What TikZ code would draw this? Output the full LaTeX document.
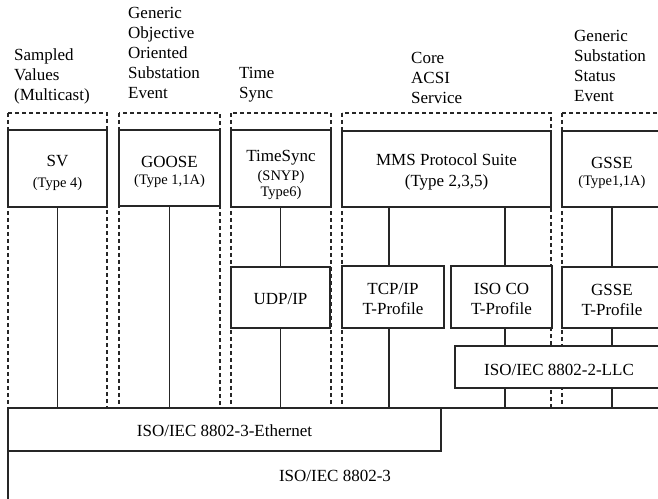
\documentclass[tikz,border=0pt]{standalone}
\usepackage{fontspec}
\setmainfont{Liberation Serif}
\newcommand\smallfnt{\fontsize{14.5}{17}\selectfont}
% name, x1, y1, x2, y2 (pixels from top-left), text, vertical text shift
\newcommand\boxat[7]{\node[box, minimum width={(#4)-(#2)}, minimum height={(#5)-(#3)}] (#1) at ({((#2)+(#4))/2},{498-((#3)+(#5))/2}) {};
  \node[txt, yshift=#7] (#1t) at (#1.center) {#6};}
\begin{document}
\begin{tikzpicture}[x=1pt,y=1pt,
  grp/.style={draw=black!85, dash pattern=on 4pt off 3pt, line width=1.1pt},
  box/.style={draw=black!85, fill=white, line width=1.2pt, inner sep=0pt},
  ln/.style={draw=black!85, line width=1.2pt},
  lab/.style={anchor=base west, align=left, inner sep=0pt, font=\fontsize{17}{20}\selectfont},
  txt/.style={inner sep=0pt, align=center, font=\fontsize{17}{20}\selectfont}]
\clip (0,0) rectangle (658,498);
\useasboundingbox (0,0) rectangle (658,498);

% top labels (anchored at the baseline of the last line)
\node[lab] (lsv) at (14,397) {Sampled\\Values\\(Multicast)};
\node[lab] (lgoose) at (128,399) {Generic\\Objective\\Oriented\\Substation\\Event};
\node[lab] (lts) at (239,399) {Time\\Sync};
\node[lab] (lcore) at (411,394) {Core\\ACSI\\Service};
\node[lab] (lgsse) at (574,396) {Generic\\Substation\\Status\\Event};

% physical layers
\node[box, minimum width=692, minimum height=132] (base) at (354,24) {};
\node[txt] (baset) at (335,22) {ISO/IEC 8802-3};
\boxat{eth}{8}{408}{441}{451}{ISO/IEC 8802-3-Ethernet}{-1pt}

% dashed groups
\draw[grp] (8,385) rectangle (107,90);
\draw[grp] (119,385) rectangle (220,90);
\draw[grp] (231,385) rectangle (331,90);
\draw[grp] (342,385) rectangle (551,90);
\draw[grp] (562,385) rectangle (668,90);

% application boxes
\boxat{sv}{8}{130}{107}{207}{SV\\[1pt]{\smallfnt (Type 4)}}{-4.5pt}
\boxat{goose}{119}{130}{220}{206}{GOOSE\\[-3pt]{\smallfnt (Type 1,1A)}}{-3.5pt}
\boxat{ts}{231}{130}{331}{207}{TimeSync\\[-1pt]{\smallfnt (SNYP)}\\[-4pt]{\smallfnt Type6)}}{-6.5pt}
\boxat{mms}{342}{131}{551}{207}{MMS Protocol Suite\\[1pt](Type 2,3,5)}{-2.5pt}
\boxat{gsse}{562}{131}{662}{207}{GSSE\\[-3pt]{\smallfnt (Type1,1A)}}{-3.5pt}

% transport boxes
\boxat{udp}{231}{267}{330}{328}{UDP/IP}{-1pt}
\boxat{tcp}{342}{266}{444}{328}{TCP/IP\\T-Profile}{-2pt}
\boxat{isoco}{451}{266}{552}{328}{ISO CO\\T-Profile}{-2pt}
\boxat{gsset}{562}{267}{662}{328}{GSSE\\T-Profile}{-2pt}

% connectors
\draw[ln] (sv.south) -- (sv.south |- eth.north);
\draw[ln] (goose.south) -- (goose.south |- eth.north);
\draw[ln] (udp.north) -- (udp.north |- ts.south);
\draw[ln] (udp.south) -- (udp.south |- eth.north);
\draw[ln] ([xshift=-4pt]tcp.north) -- ([xshift=-4pt]tcp.north |- mms.south);
\draw[ln] ([xshift=-4pt]tcp.south) -- ([xshift=-4pt]tcp.south |- eth.north);
\draw[ln] ([xshift=3.5pt]isoco.north) -- ([xshift=3.5pt]isoco.north |- mms.south);
\draw[ln] (gsset.north) -- (gsset.north |- gsse.south);

% LLC
\node[box, minimum width=245, minimum height=42] (llc) at (577.5,131) {};
\node[txt] (llct) at (559,128) {ISO/IEC 8802-2-LLC};
\draw[ln] ([xshift=3.5pt]isoco.south) -- ([xshift=3.5pt]isoco.south |- llc.north);
\draw[ln] ([xshift=3.5pt]isoco.south |- llc.south) -- ([xshift=3.5pt]isoco.south |- base.north);
\draw[ln] (gsset.south) -- (gsset.south |- llc.north);
\draw[ln] (gsset.south |- llc.south) -- (gsset.south |- base.north);
\end{tikzpicture}
\end{document}
